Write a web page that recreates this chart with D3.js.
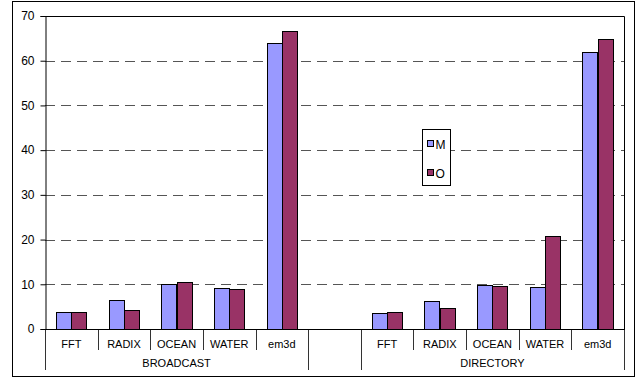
<!DOCTYPE html>
<html>
<head>
<meta charset="utf-8">
<script src="https://cdn.jsdelivr.net/npm/d3@7"></script>
<style>
  body { margin: 0; background: #fff; }
  text { font-family: "Liberation Sans", Arial, sans-serif; fill: #000; }
</style>
</head>
<body>
<div id="chart"></div>
<script>
const benchmarks = ["FFT", "RADIX", "OCEAN", "WATER", "em3d"];
const schemes = ["BROADCAST", "DIRECTORY"];
const series = ["M", "O"];
const mBroadcast = [3.9, 6.4, 10.0, 9.1, 63.9];
const oBroadcast = [3.7, 4.3, 10.5, 9.0, 66.6];
const mDirectory = [3.5, 6.3, 9.8, 9.5, 61.9];
const oDirectory = [3.9, 4.7, 9.6, 20.8, 64.9];
const yTicks = [0, 10, 20, 30, 40, 50, 60, 70];
const colors = { M: "#9999ff", O: "#993366" };

const W = 637, H = 379;
const margin = { left: 45, top: 16, right: 12, bottom: 50 };

// slots: 5 broadcast, one blank, 5 directory
const slots = [];
benchmarks.forEach((b, i) => slots.push({ key: "B" + i, group: 0, name: b, M: mBroadcast[i], O: oBroadcast[i] }));
slots.push({ key: "gap", group: -1, name: "" });
benchmarks.forEach((b, i) => slots.push({ key: "D" + i, group: 1, name: b, M: mDirectory[i], O: oDirectory[i] }));

const svg = d3.select("#chart").append("svg")
    .attr("width", W).attr("height", H);

svg.append("rect")
    .attr("x", 12.5).attr("y", 1.5)
    .attr("width", 622).attr("height", 375)
    .attr("fill", "none").attr("stroke", "#000");

const x = d3.scaleBand()
    .domain(slots.map(d => d.key))
    .range([margin.left, W - margin.right - 1]);
const x1 = d3.scaleBand()
    .domain(series)
    .range([0, x.bandwidth()])
    .paddingOuter(0.72);
const y = d3.scaleLinear().domain([0, 70]).range([329, margin.top]);

// dashed gridlines
svg.append("g").selectAll("line")
    .data(yTicks.filter(t => t > 0 && t < 70))
    .enter().append("line")
    .attr("x1", margin.left).attr("x2", x.range()[1])
    .attr("y1", d => Math.round(y(d)) + 0.5).attr("y2", d => Math.round(y(d)) + 0.5)
    .attr("stroke", "#555")
    .attr("stroke-dasharray", "10,6");

// plot frame top and right
svg.append("path")
    .attr("d", `M${margin.left},${margin.top + 0.5}H${x.range()[1] + 0.5}V329`)
    .attr("fill", "none").attr("stroke", "#000");

// bars
const g = svg.append("g");
slots.filter(d => d.group >= 0).forEach(d => {
    g.selectAll(null)
        .data(series.map(s => ({ s, v: d[s] })))
        .enter().append("rect")
        .attr("x", s => Math.round(x(d.key) + x1(s.s)) + 0.5)
        .attr("y", s => Math.round(y(s.v)) + 0.5)
        .attr("width", Math.round(x1.bandwidth()))
        .attr("height", s => Math.round(y(0)) - Math.round(y(s.v)))
        .attr("fill", s => colors[s.s])
        .attr("stroke", "#000")
        .attr("stroke-width", 1);
});

// y axis
const yAxis = svg.append("g")
    .attr("transform", `translate(${margin.left + 0.5},0)`)
    .call(d3.axisLeft(y).tickValues(yTicks).tickSize(5).tickPadding(6));
yAxis.select(".domain").attr("stroke", "#000");
yAxis.selectAll(".tick line").attr("stroke", "#000");
yAxis.selectAll("text").attr("font-size", 12).attr("font-family", "Liberation Sans, Arial, sans-serif");

// x axis baseline
svg.append("line")
    .attr("x1", margin.left).attr("x2", x.range()[1] + 1)
    .attr("y1", 329.5).attr("y2", 329.5)
    .attr("stroke", "#000");

// category dividers
const bounds = slots.map(d => x(d.key)).concat([x.range()[1]]);
const longIdx = [0, 5, 6, 11];
svg.append("g").selectAll("line")
    .data(bounds)
    .enter().append("line")
    .attr("x1", d => Math.round(d) + 0.5).attr("x2", d => Math.round(d) + 0.5)
    .attr("y1", 330).attr("y2", (d, i) => longIdx.includes(i) ? 370 : 350)
    .attr("stroke", "#333");

// category labels
svg.append("g").selectAll("text")
    .data(slots.filter(d => d.name))
    .enter().append("text")
    .attr("x", d => x(d.key) + x.bandwidth() / 2)
    .attr("y", 348)
    .attr("text-anchor", "middle")
    .attr("font-size", 11)
    .text(d => d.name);

// group labels
svg.append("g").selectAll("text")
    .data(schemes)
    .enter().append("text")
    .attr("x", (d, i) => {
        const a = x(i === 0 ? "B0" : "D0"), b = x(i === 0 ? "B4" : "D4") + x.bandwidth();
        return (a + b) / 2;
    })
    .attr("y", 367)
    .attr("text-anchor", "middle")
    .attr("font-size", 11)
    .text(d => d);

// legend
const lg = svg.append("g").attr("transform", "translate(422.5,129.5)");
lg.append("rect").attr("width", 28).attr("height", 56)
    .attr("fill", "#fff").attr("stroke", "#000");
series.forEach((s, i) => {
    lg.append("rect")
        .attr("x", 5).attr("y", 11 + i * 29)
        .attr("width", 6).attr("height", 6)
        .attr("fill", colors[s]).attr("stroke", "#000");
    lg.append("text")
        .attr("x", 13).attr("y", 19 + i * 29)
        .attr("font-size", 12)
        .text(s);
});
</script>
</body>
</html>
